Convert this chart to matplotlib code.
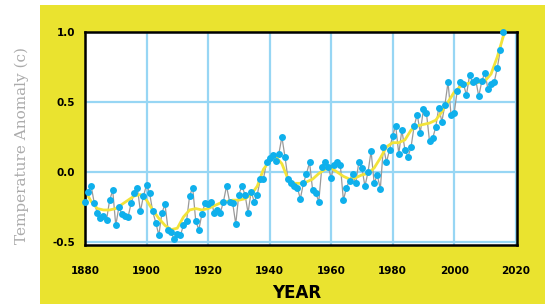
import numpy as np
import matplotlib
matplotlib.use('Agg')
import matplotlib.pyplot as plt
from matplotlib.patches import Rectangle

# Annual temperature anomaly, 1880-2016
years = list(range(1880, 2017))
anomaly = [
    -0.21, -0.14, -0.10, -0.22, -0.29, -0.33, -0.31, -0.34, -0.20, -0.13,  # 1880s
    -0.38, -0.25, -0.30, -0.31, -0.32, -0.22, -0.15, -0.11, -0.28, -0.17,  # 1890s
    -0.09, -0.15, -0.28, -0.36, -0.45, -0.29, -0.23, -0.41, -0.43, -0.48,  # 1900s
    -0.44, -0.45, -0.38, -0.35, -0.17, -0.11, -0.35, -0.41, -0.30, -0.22,  # 1910s
    -0.23, -0.21, -0.29, -0.27, -0.29, -0.21, -0.10, -0.21, -0.22, -0.37,  # 1920s
    -0.16, -0.10, -0.16, -0.29, -0.14, -0.21, -0.16, -0.05, -0.05, 0.07,   # 1930s
    0.10, 0.12, 0.08, 0.13, 0.25, 0.11, -0.05, -0.08, -0.10, -0.11,        # 1940s
    -0.19, -0.08, -0.01, 0.07, -0.13, -0.15, -0.21, 0.04, 0.07, 0.04,      # 1950s
    -0.04, 0.05, 0.07, 0.05, -0.20, -0.11, -0.06, -0.01, -0.08, 0.07,      # 1960s
    0.03, -0.10, 0.00, 0.15, -0.08, -0.02, -0.12, 0.18, 0.07, 0.16,        # 1970s
    0.26, 0.33, 0.13, 0.30, 0.16, 0.11, 0.18, 0.33, 0.41, 0.28,            # 1980s
    0.45, 0.42, 0.22, 0.24, 0.32, 0.46, 0.36, 0.48, 0.64, 0.41,            # 1990s
    0.42, 0.58, 0.64, 0.63, 0.55, 0.69, 0.64, 0.66, 0.54, 0.65,            # 2000s
    0.71, 0.59, 0.63, 0.64, 0.74, 0.87, 1.00,                              # 2010s
]

# Smoothed trend (yellow line)
smooth_years = list(range(1880, 2017, 2)) + [2017]
smooth = [
    -0.13, -0.21, -0.26, -0.27, -0.27, -0.26, -0.23, -0.20, -0.17, -0.16,
    -0.20, -0.27, -0.33, -0.38, -0.41, -0.40, -0.32, -0.27, -0.26, -0.27,
    -0.26, -0.24, -0.22, -0.21, -0.20, -0.20, -0.19, -0.16, -0.10, 0.02,
    0.08, 0.11, 0.06, -0.05, -0.08, -0.08, -0.07, -0.05, -0.01, 0.02,
    0.03, 0.00, -0.03, -0.05, -0.04, -0.02, -0.01, 0.03, 0.10, 0.18,
    0.21, 0.21, 0.23, 0.30, 0.33, 0.34, 0.35, 0.37, 0.43, 0.50,
    0.57, 0.61, 0.63, 0.64, 0.64, 0.65, 0.70, 0.82, 0.97, 1.03,
]

x_ticks = [1880, 1900, 1920, 1940, 1960, 1980, 2000, 2020]
y_ticks = [-0.5, 0.0, 0.5, 1.0]

yellow_bg = '#EAE32F'
point_col = '#0FB0EC'
grid_col = '#97D6F4'
trend_col = '#F2E33A'

fig = plt.figure(figsize=(5.45, 3.04), dpi=100, facecolor='white')
fig.patches.append(Rectangle((40 / 545, 0), 1 - 40 / 545, 1 - 5 / 304,
                             transform=fig.transFigure, facecolor=yellow_bg,
                             edgecolor='none', zorder=-10))

ax = fig.add_axes([0.156, 0.194, 0.793, 0.701])
ax.set_zorder(1)
ax.set_facecolor('white')

ax.plot(years, anomaly, color='#9A9A9A', lw=0.9, zorder=2)
ax.plot(years, anomaly, 'o', color=point_col, ms=5.0, mec='none', zorder=6,
        clip_on=False)
ax.plot(smooth_years, smooth, color=trend_col, lw=2.0, zorder=4, clip_on=True,
        solid_capstyle='round', solid_joinstyle='round')

ax.set_xlim(1880, 2020.5)
ax.set_ylim(-0.52, 1.0)
ax.set_xticks(x_ticks)
ax.set_yticks(y_ticks)
ax.set_xticklabels([str(t) for t in x_ticks], fontsize=7.5, fontweight='bold')
ax.set_yticklabels(['%.1f' % t for t in y_ticks], fontsize=7.5, fontweight='bold')
ax.tick_params(axis='both', length=0)
ax.tick_params(axis='x', pad=15)
ax.tick_params(axis='y', pad=7)

ax.grid(True, color=grid_col, lw=1.6)
ax.set_axisbelow(True)
for s in ax.spines.values():
    s.set_color('black')
    s.set_linewidth(1.8)
    s.set_zorder(5)

fig.text(297 / 545, 1 - 293 / 304, 'YEAR', ha='center', va='center',
         fontsize=12, fontweight='bold', family='DejaVu Sans')
fig.text(22 / 545, 1 - 146 / 304, 'Temperature Anomaly (c)', rotation=90,
         ha='center', va='center', fontsize=11, color='#ABABAB',
         family='DejaVu Serif')

plt.savefig('out.png', dpi=100)
